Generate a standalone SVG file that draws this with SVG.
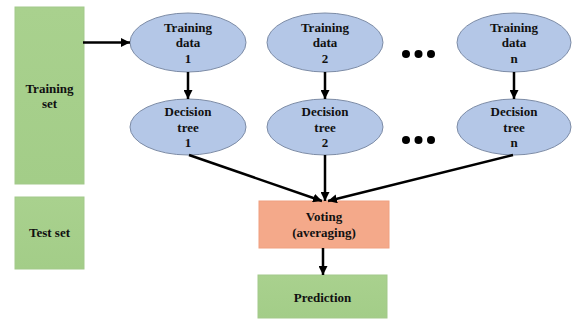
<svg xmlns="http://www.w3.org/2000/svg" width="573" height="320" viewBox="0 0 573 320">
<style>
.t{font-family:'Liberation Serif',serif;font-weight:700;font-size:13px;fill:#111;text-anchor:middle}
.ell{fill:#b4c7e7;stroke:#7d8ca6;stroke-width:1}
.grn{fill:url(#g);stroke:#a3c98b;stroke-width:1}
.sal{fill:#f4a98a;stroke:#f0a080;stroke-width:1}
.ln{stroke:#000;stroke-width:2.5;fill:none}
.dot{fill:#000}
</style>
<defs>
<linearGradient id="g" x1="0" y1="0" x2="0" y2="1">
<stop offset="0" stop-color="#a9d18e"/>
<stop offset="1" stop-color="#a3cd88"/>
</linearGradient>
<marker id="a" viewBox="0 0 10 10" refX="10" refY="5" markerWidth="3.6" markerHeight="3.6" orient="auto" markerUnits="strokeWidth">
<path d="M0,0 L10,5 L0,10 Z" fill="#000"/>
</marker>
</defs>
<g id="training-set"><rect class="grn" x="15" y="7" width="69" height="177"/><text class="t" x="49.5" y="93">Training</text><text class="t" x="49.5" y="108">set</text></g>
<g id="test-set"><rect class="grn" x="15" y="197" width="69" height="72"/><text class="t" x="49.5" y="237">Test set</text></g>
<g id="td1"><ellipse class="ell" cx="188" cy="42.5" rx="58" ry="29.5"/><text class="t" x="188" y="31.5">Training</text><text class="t" x="188" y="47">data</text><text class="t" x="188" y="62.5">1</text></g>
<g id="td2"><ellipse class="ell" cx="325" cy="42.5" rx="58" ry="29.5"/><text class="t" x="325" y="31.5">Training</text><text class="t" x="325" y="47">data</text><text class="t" x="325" y="62.5">2</text></g>
<g id="tdn"><ellipse class="ell" cx="514" cy="42.5" rx="57" ry="29.5"/><text class="t" x="514" y="31.5">Training</text><text class="t" x="514" y="47">data</text><text class="t" x="514" y="62.5">n</text></g>
<g id="dt1"><ellipse class="ell" cx="188" cy="127" rx="58" ry="28"/><text class="t" x="188" y="116">Decision</text><text class="t" x="188" y="131.5">tree</text><text class="t" x="188" y="147">1</text></g>
<g id="dt2"><ellipse class="ell" cx="325" cy="127" rx="58" ry="28"/><text class="t" x="325" y="116">Decision</text><text class="t" x="325" y="131.5">tree</text><text class="t" x="325" y="147">2</text></g>
<g id="dtn"><ellipse class="ell" cx="514" cy="127" rx="57" ry="28"/><text class="t" x="514" y="116">Decision</text><text class="t" x="514" y="131.5">tree</text><text class="t" x="514" y="147">n</text></g>
<g id="dots1"><circle class="dot" cx="406" cy="54" r="4"/><circle class="dot" cx="418.5" cy="54" r="4"/><circle class="dot" cx="431" cy="54" r="4"/></g>
<g id="dots2"><circle class="dot" cx="406" cy="140" r="4"/><circle class="dot" cx="418.5" cy="140" r="4"/><circle class="dot" cx="431" cy="140" r="4"/></g>
<g id="voting"><rect class="sal" x="259" y="201" width="130" height="47"/><text class="t" x="324" y="221">Voting</text><text class="t" x="324" y="237">(averaging)</text></g>
<g id="prediction"><rect class="grn" x="258" y="275" width="129" height="43"/><text class="t" x="322.5" y="302">Prediction</text></g>
<g id="connectors">
<line class="ln" x1="83" y1="42.5" x2="130" y2="42.5" marker-end="url(#a)"/>
<line class="ln" x1="188" y1="72" x2="188" y2="99" marker-end="url(#a)"/>
<line class="ln" x1="325" y1="72" x2="325" y2="99" marker-end="url(#a)"/>
<line class="ln" x1="514" y1="72" x2="514" y2="99" marker-end="url(#a)"/>
<line class="ln" x1="189" y1="155" x2="322" y2="201" marker-end="url(#a)"/>
<line class="ln" x1="325" y1="155" x2="325" y2="201" marker-end="url(#a)"/>
<line class="ln" x1="513" y1="155" x2="328" y2="201" marker-end="url(#a)"/>
<line class="ln" x1="323" y1="248" x2="323" y2="275" marker-end="url(#a)"/>
</g>
</svg>
